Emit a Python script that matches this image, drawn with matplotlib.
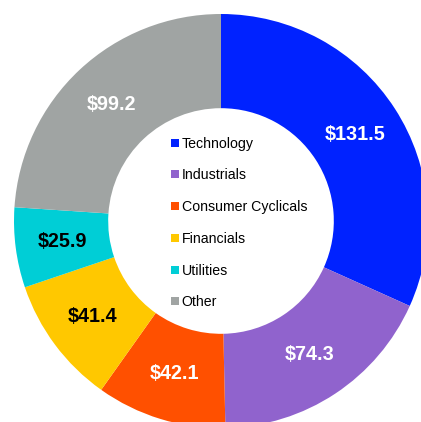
import matplotlib
matplotlib.use("Agg")
import matplotlib.pyplot as plt
import numpy as np
from matplotlib.lines import Line2D

categories = ["Technology", "Industrials", "Consumer Cyclicals", "Financials", "Utilities", "Other"]
values = [131.5, 74.3, 42.1, 41.4, 25.9, 99.2]
colors = ["#0022FF", "#9063CD", "#FF5000", "#FFC800", "#00CED6", "#A0A4A3"]
label_colors = ["white", "white", "white", "black", "black", "white"]

plt.rcParams['font.family'] = ['Liberation Sans', 'DejaVu Sans']

fig = plt.figure(figsize=(4.21, 4.22), dpi=100)
ax = fig.add_axes([0, 0, 1, 1])
R = 207.0

inner = 0.545
wedges, _ = ax.pie(values, colors=colors, startangle=90, counterclock=False,
                   radius=1.0, wedgeprops=dict(width=1 - inner, linewidth=0))
ax.set_xlim(-221 / R, (421 - 221) / R)
ax.set_ylim(-(422 - 221) / R, 221 / R)
ax.set_aspect('equal')
ax.axis('off')

rl = (1 + inner) / 2
for w, v, lc in zip(wedges, values, label_colors):
    ang = np.deg2rad((w.theta1 + w.theta2) / 2)
    ax.text(rl * np.cos(ang), rl * np.sin(ang), f"${v:.1f}", ha='center', va='center',
            fontsize=14.2, fontweight='bold', color=lc)

handles = [Line2D([0], [0], marker='s', linestyle='none', markersize=6,
                  markerfacecolor=c, markeredgewidth=0) for c in colors]
leg = ax.legend(handles, categories, loc='center left', bbox_to_anchor=(171 / 421, 1 - 223 / 422),
                frameon=False, fontsize=10.2, handlelength=0.55, handletextpad=0.2,
                labelspacing=1.25, borderpad=0, borderaxespad=0)

fig.savefig("out.png", dpi=100)
